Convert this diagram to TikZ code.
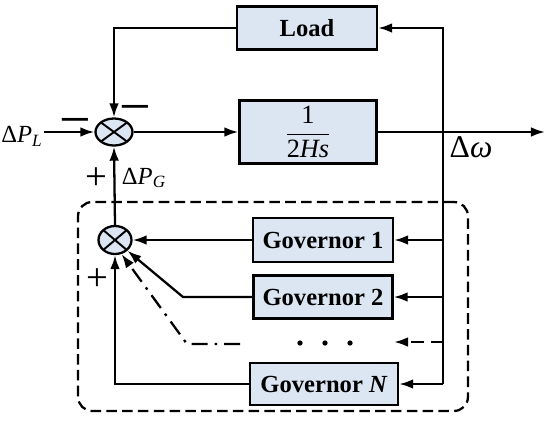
\documentclass[tikz,border=0pt]{standalone}
\usepackage{fontspec}
\setmainfont{Liberation Serif}
\usetikzlibrary{arrows.meta,shapes.geometric}
\definecolor{boxfill}{HTML}{DCE6F2}

\begin{document}
\begin{tikzpicture}[
  x=0.02cm, y=-0.02cm,
  line width=1.3pt,
  >={Latex[length=8pt,width=5.5pt]},
  block/.style={draw, fill=boxfill, inner sep=0pt, font=\fontsize{14}{16}\selectfont\bfseries},
  sumnode/.style={draw, ellipse, fill=boxfill, minimum width=0.74cm, minimum height=0.54cm, inner sep=0pt,
    path picture={\draw[line width=1.1pt] (path picture bounding box.north west) -- (path picture bounding box.south east)
      (path picture bounding box.north east) -- (path picture bounding box.south west);}},
  sign/.style={inner sep=0pt, font=\fontsize{22}{22}\selectfont},
  lbl/.style={inner sep=0pt, font=\fontsize{14}{16}\selectfont},
  dashdot/.style={dash pattern=on 9pt off 4pt on 1.5pt off 4pt}]
\useasboundingbox (0,0) rectangle (550,424);

% forward path
\node[sumnode] (sum) at (114,132) {};
\node[block, minimum width=2.74cm, minimum height=1.26cm, font=\fontsize{15}{18}\selectfont] (plant) at (308,132)
  {$\displaystyle\frac{\textrm{1}}{\textrm{2}\textit{Hs}}$};
\node[block, minimum width=2.8cm, minimum height=0.86cm] (load) at (307,28) {Load};
\node[lbl] (dpl) at (22,136) {Δ\textit{P}\textsubscript{\textit{L}}};
\node[lbl] (dpg) at (144,178) {Δ\textit{P}\textsubscript{\textit{G}}};
\node[lbl, font=\fontsize{18}{20}\selectfont] (dw) at (471,147) {Δ\textit{ω}};

% governors
\node[draw, dashed, dash pattern=on 6pt off 3pt, rounded corners=8pt, minimum width=7.8cm, minimum height=4.18cm] (govgroup) at (273,306.5) {};
\node[sumnode, minimum width=0.66cm, minimum height=0.56cm] (gsum) at (115,240) {};
\node[block, minimum width=2.8cm, minimum height=0.88cm] (gov1) at (323,240) {Governor 1};
\node[block, minimum width=2.78cm, minimum height=0.86cm] (gov2) at (323,297) {Governor 2};
\node[block, minimum width=2.96cm, minimum height=0.84cm] (govN) at (324,384) {Governor \textit{N}};
\foreach \x in {300,325,350}
  \fill (\x,343) circle (1.5pt);

% signs
\node[sign, font=\fontsize{32}{32}\selectfont] (m1) at (75,128) {−};
\node[sign, font=\fontsize{32}{32}\selectfont] (m2) at (135,115) {−};
\node[sign] (p1) at (96,179) {+};
\node[sign] (p2) at (97,280) {+};

% coordinates
\coordinate (out) at (545,132);
\coordinate (fbbot) at (443,384);
\coordinate (dtap) at (443,342);
\coordinate (dend) at (394,342);
\coordinate (g2bend) at (183,297);
\coordinate (ddstart) at (240,344);
\coordinate (ddbend) at (187,344);

% connectors
\draw[->] (dpl.east |- sum.west) -- (sum.west);
\draw[->] (sum.east) -- (plant.west);
\draw[->] (plant.east) -- (out);
\draw[->] (fbbot) |- (load.east);
\draw[->] (load.west) -| (sum.north);
\draw[->] (gsum.north) -- (sum.south);
\draw[->] (gov1.east -| fbbot) -- (gov1.east);
\draw[->] (gov2.east -| fbbot) -- (gov2.east);
\draw[->] (fbbot) -- (govN.east);
\draw[->, dashed, dash pattern=on 7pt off 4pt] (dtap) -- (dend);
\draw[->] (gov1.west) -- (gsum.east);
\draw[->] (gov2.west) -- (g2bend) -- (gsum.south east);
\draw[->, dashdot] (ddstart) -- (ddbend) -- (gsum.-65);
\draw[->] (govN.west) -| (gsum.south);
\end{tikzpicture}
\end{document}
